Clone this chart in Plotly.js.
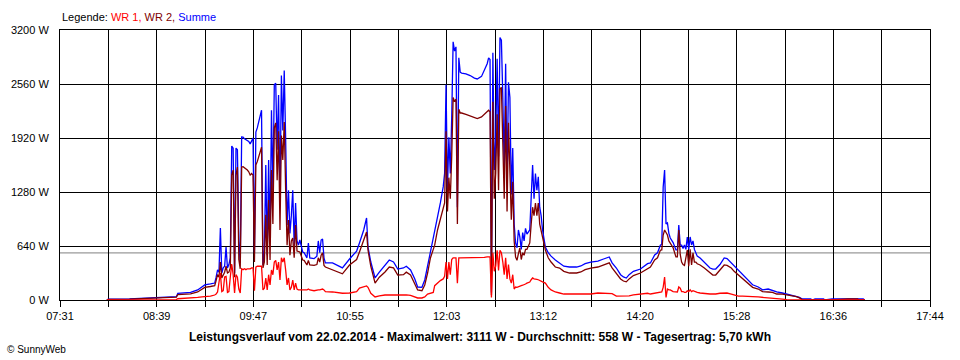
<!DOCTYPE html>
<html>
<head>
<meta charset="utf-8">
<script src="https://cdn.plot.ly/plotly-3.0.1.min.js"></script>
<style>html,body{margin:0;padding:0;background:#fff;}#chart{width:960px;height:360px;}</style>
</head>
<body>
<div id="chart"></div>
<script>
// ---- data ----
const times = ["08:04","08:05","08:20","08:31","08:41","08:49","08:53","08:54","09:03","09:08","09:11","09:13","09:17","09:20","09:21","09:22","09:23","09:24","09:25","09:26","09:27","09:28","09:29","09:30","09:31","09:32","09:33","09:34","09:35","09:36","09:37","09:38","09:39","09:40","09:41","09:42","09:43","09:44","09:45","09:46","09:47","09:48","09:49","09:50","09:51","09:52","09:53","09:54","09:55","09:56","09:57","09:58","09:59","10:00","10:01","10:02","10:03","10:04","10:05","10:06","10:07","10:08","10:09","10:10","10:11","10:12","10:13","10:14","10:15","10:16","10:17","10:18","10:19","10:20","10:22","10:23","10:25","10:26","10:27","10:30","10:32","10:33","10:34","10:35","10:36","10:37","10:38","10:43","10:48","10:50","10:55","11:00","11:02","11:05","11:07","11:08","11:10","11:13","11:16","11:20","11:23","11:26","11:29","11:33","11:35","11:38","11:41","11:43","11:46","11:48","11:50","11:52","11:54","11:55","11:57","11:59","12:01","12:02","12:03","12:04","12:05","12:06","12:07","12:08","12:09","12:10","12:11","12:12","12:13","12:14","12:17","12:20","12:23","12:25","12:28","12:30","12:32","12:33","12:34","12:35","12:36","12:37","12:38","12:39","12:40","12:41","12:42","12:43","12:44","12:45","12:46","12:47","12:48","12:49","12:50","12:51","12:52","12:53","12:54","12:55","12:56","12:57","12:58","12:59","13:00","13:02","13:03","13:04","13:05","13:06","13:07","13:08","13:09","13:10","13:11","13:13","13:15","13:17","13:20","13:23","13:26","13:30","13:35","13:38","13:41","13:45","13:50","13:54","13:58","14:00","14:03","14:06","14:08","14:10","14:12","14:15","14:20","14:25","14:27","14:30","14:32","14:34","14:35","14:36","14:37","14:38","14:39","14:40","14:41","14:43","14:45","14:46","14:47","14:48","14:49","14:50","14:51","14:52","14:53","14:54","14:55","14:56","14:57","14:58","14:59","15:00","15:02","15:05","15:09","15:11","15:13","15:16","15:19","15:21","15:24","15:26","15:29","15:32","15:36","15:39","15:43","15:46","15:50","15:53","15:56","16:00","16:03","16:07","16:10","16:12","16:14","16:20","16:21","16:23","16:29","16:30","16:35","16:46","16:53","16:54","16:57","16:58"];

const summe = [0,10,12,20,27,35,40,80,90,119,150,178,190,201,270,356,330,853,320,380,400,628,380,420,500,1825,1800,320,1800,1780,700,440,1932,1930,1910,1900,1890,1880,1850,1880,1920,560,1990,2040,2100,2180,2250,415,590,1600,530,1660,711,2250,1300,2550,2570,1780,2430,1185,2660,2010,2720,1900,890,1300,790,1000,1300,650,1150,700,650,711,569,560,500,676,498,490,520,700,560,711,723,500,439,439,391,380,486,580,676,830,972,628,450,261,330,415,474,450,367,380,400,356,250,154,150,237,400,557,700,800,948,1150,1340,1500,2550,1300,1930,1500,2160,3060,2950,3000,1100,2870,2700,2690,2680,2660,2630,2620,2650,2720,2800,2870,2850,90,2930,1540,1900,2860,1700,3111,3080,2400,1540,2800,1400,2580,2400,1250,1800,900,676,620,830,747,600,800,700,850,780,830,1150,1600,1200,1500,1300,1460,1100,1000,830,628,560,520,474,439,400,391,391,403,430,450,462,486,510,440,379,300,273,260,300,340,367,430,439,533,560,650,660,1340,1541,900,913,790,735,680,593,593,889,650,650,610,652,600,747,600,747,652,700,600,560,520,498,450,379,367,367,420,498,490,439,400,356,300,237,180,154,120,130,110,95,83,71,59,47,30,12,12,0,12,12,0,12,12,12,12,12,0];

const wr2 = [0,8,10,17,23,30,34,65,72,95,125,150,160,170,230,300,270,450,260,300,330,400,320,330,380,1480,1540,270,1480,1576,480,370,1576,1580,1570,1560,1540,1520,1480,1500,1480,450,1600,1640,1700,1760,1810,380,450,1010,415,1185,474,1540,900,2040,2100,1420,2000,830,1950,1660,2110,1300,650,948,530,700,735,500,890,580,570,569,474,470,415,470,415,410,420,500,450,530,560,410,391,356,320,310,415,480,569,700,805,593,400,201,270,332,391,380,296,300,330,296,200,119,110,178,320,498,600,650,830,950,1100,1150,2000,1050,1450,1200,1700,2400,2350,2380,900,2260,2216,2216,2200,2180,2160,2150,2170,2200,2240,2250,2230,60,2350,1200,1500,2200,1300,2500,2520,1950,1200,2300,1050,2100,1540,950,1400,700,510,470,550,616,480,560,530,600,600,676,900,1100,1000,1150,1000,1150,900,830,750,593,500,450,391,379,340,320,320,332,360,379,391,415,440,380,320,250,225,215,250,290,320,370,391,474,500,590,593,770,830,800,770,700,676,620,510,510,830,540,450,420,410,520,593,400,600,415,560,450,450,430,415,380,320,296,296,350,415,410,379,340,296,250,201,150,130,100,95,90,71,70,60,50,40,25,5,0,0,0,0,0,0,12,12,0,0,0];

const wr1 = [0,0,2,3,4,5,5,15,20,30,38,40,45,59,70,95,200,320,100,110,273,280,90,100,273,427,300,83,300,270,130,83,370,360,370,360,370,370,370,380,380,110,390,400,400,400,400,120,140,260,120,300,178,356,300,450,470,356,450,237,500,450,500,356,178,261,119,150,237,119,200,130,119,119,119,119,119,130,119,110,120,120,120,130,130,120,100,95,83,80,83,100,142,160,166,150,80,36,50,59,60,60,59,60,60,55,36,24,24,36,70,83,90,170,201,230,250,280,450,250,450,300,480,500,500,500,200,500,500,500,500,500,500,500,500,505,510,510,510,30,560,340,400,590,350,590,560,450,300,500,250,420,250,200,300,130,154,150,160,170,170,175,180,190,200,213,240,261,250,250,245,240,230,220,215,201,150,120,95,83,71,71,71,71,71,71,83,83,83,75,47,47,47,47,50,60,71,80,71,83,83,95,95,150,273,30,130,120,119,100,95,95,154,140,100,100,90,90,110,100,120,100,110,100,100,90,83,75,71,71,71,80,83,83,71,60,47,47,47,40,36,30,24,20,12,10,5,2,0,0,0,0,0,0,0,0,0,0,0,0,0,0];

const xLabels = ["07:31","08:39","09:47","10:55","12:03","13:12","14:20","15:28","16:36","17:44"];
const yTicks = [0, 640, 1280, 1920, 2560, 3200];
const yLabels = ["0 W","640 W","1280 W","1920 W","2560 W","3200 W"];
const average = 558;
const legendText = 'Legende: <span style="color:#ff0000">WR 1,</span> <span style="color:#800000">WR 2,</span> <span style="color:#0000ff">Summe</span>';
const titleText = "Leistungsverlauf vom 22.02.2014 - Maximalwert: 3111 W - Durchschnitt: 558 W - Tagesertrag: 5,70 kWh";
const footText = "© SunnyWeb";

// ---- build ----
function toMin(s){ const p = s.split(":"); return (+p[0])*60 + (+p[1]); }
const x = times.map(toMin);
const xStart = toMin(xLabels[0]), xEnd = toMin(xLabels[xLabels.length-1]);
const nInt = (xLabels.length-1)*2;
const tickvals = [], ticktext = [];
for (let i=0;i<=nInt;i++){
  tickvals.push(xStart + (xEnd-xStart)*i/nInt);
  ticktext.push(i%2===0 ? xLabels[i/2] : "");
}

const FONT = "Liberation Sans, Arial, sans-serif";
const traces = [
  {x:x, y:summe, type:"scatter", mode:"lines", line:{color:"#0000ff", width:1.3}, name:"Summe"},
  {x:x, y:wr2, type:"scatter", mode:"lines", line:{color:"#800000", width:1.3}, name:"WR 2"},
  {x:x, y:wr1, type:"scatter", mode:"lines", line:{color:"#ff0000", width:1.3}, name:"WR 1"}
];

const axisCommon = {
  showgrid:true, gridcolor:"#000000", gridwidth:1,
  showline:true, linecolor:"#000000", linewidth:1, mirror:true,
  zeroline:false, fixedrange:true,
  tickfont:{family:FONT, size:11, color:"#000000"}
};

const layout = {
  width:960, height:360,
  margin:{l:60, r:30, t:30, b:60, pad:0},
  paper_bgcolor:"#ffffff", plot_bgcolor:"#ffffff",
  showlegend:false,
  font:{family:FONT, size:11, color:"#000000"},
  xaxis: Object.assign({}, axisCommon, {
    range:[xStart, xEnd], tickmode:"array", tickvals:tickvals, ticktext:ticktext,
    ticks:"outside", ticklen:6, tickcolor:"#000000", tickwidth:1
  }),
  yaxis: Object.assign({}, axisCommon, {
    range:[0, 3200], tickmode:"array", tickvals:yTicks, ticktext:yLabels,
    ticks:"", ticklabelstandoff:8
  }),
  shapes:[{type:"line", xref:"paper", x0:0, x1:1, yref:"y", y0:average, y1:average,
           line:{color:"#808080", width:1}, layer:"between"}],
  annotations:[
    {xref:"paper", yref:"paper", x:0, y:1.048, xanchor:"left", yanchor:"middle",
     text:legendText, showarrow:false, font:{family:FONT, size:11, color:"#000000"}},
    {xref:"paper", yref:"paper", x:0.483, y:-0.137, xanchor:"center", yanchor:"middle",
     text:"<b>"+titleText+"</b>", showarrow:false, font:{family:FONT, size:12, color:"#000000"}},
    {xref:"paper", yref:"paper", x:-0.063, y:-0.185, xanchor:"left", yanchor:"middle",
     text:footText, showarrow:false, font:{family:FONT, size:10, color:"#000000"}}
  ]
};

Plotly.newPlot("chart", traces, layout, {staticPlot:true, displayModeBar:false});
</script>
</body>
</html>
